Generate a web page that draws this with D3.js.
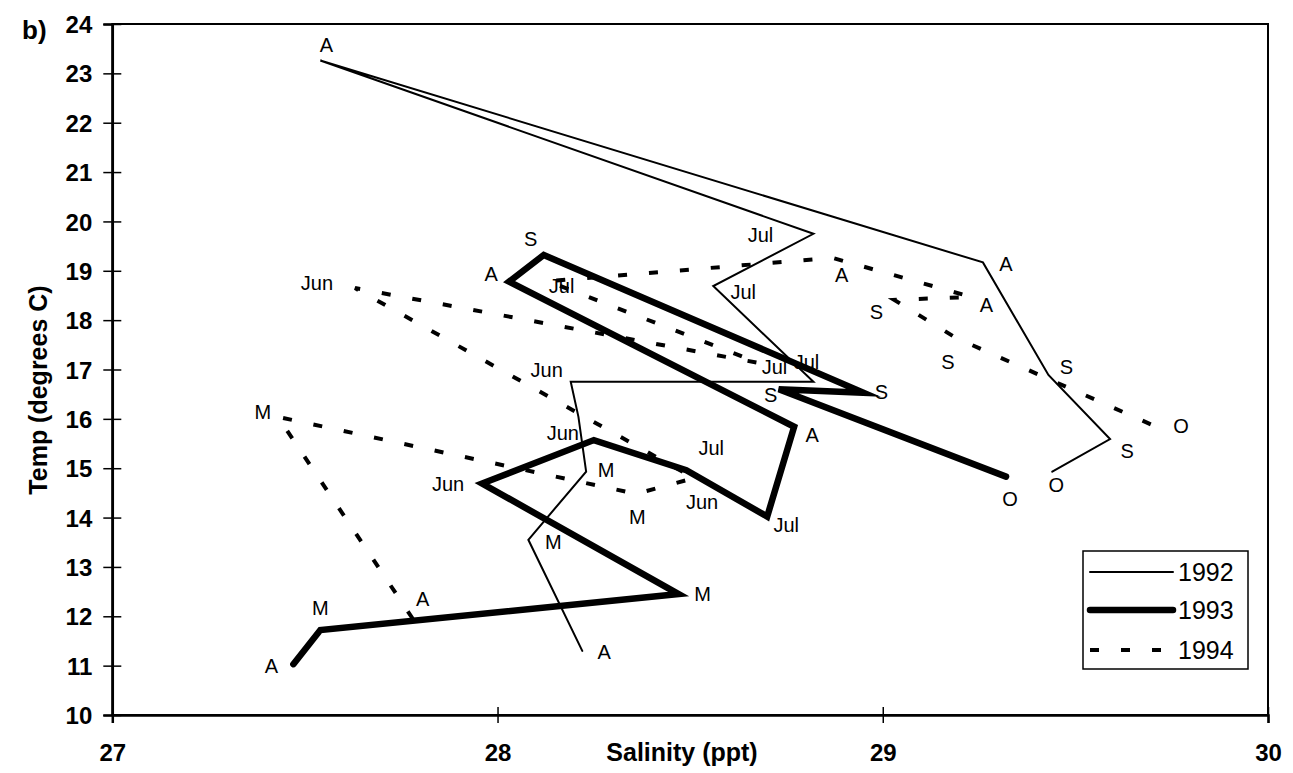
<!DOCTYPE html>
<html>
<head>
<meta charset="utf-8">
<script src="https://cdn.jsdelivr.net/npm/d3@7"></script>
<style>
  html, body { margin: 0; padding: 0; background: #fff; }
  svg { display: block; }
  text { font-family: "Liberation Sans", Arial, sans-serif; fill: #000; }
</style>
</head>
<body>
<svg id="chart" width="1293" height="773"></svg>
<script>
// Salinity / temperature trajectories, one series per year
const salinity1992 = [28.22, 28.08, 28.23, 28.21, 28.19, 28.82, 28.56, 28.82, 27.54, 29.26, 29.43, 29.59, 29.44];
const temp1992     = [11.30, 13.55, 14.93, 16.04, 16.75, 16.75, 18.69, 19.75, 23.26, 19.17, 16.89, 15.59, 14.93];
const months1992   = ["A", "M", "M", "Jun", "Jun", "Jul", "Jul", "Jul", "A", "A", "S", "S", "O"];

const salinity1993 = [27.47, 27.54, 28.47, 27.96, 28.25, 28.49, 28.70, 28.77, 28.03, 28.12, 28.95, 28.73, 29.32];
const temp1993     = [11.03, 11.72, 12.45, 14.69, 15.57, 14.96, 14.02, 15.84, 18.78, 19.32, 16.53, 16.60, 14.83];
const months1993   = ["A", "M", "M", "Jun", "Jun", "Jul", "Jul", "A", "A", "S", "S", "S", "O"];

const salinity1994 = [27.78, 27.43, 28.36, 28.51, 27.63, 28.68, 28.13, 28.87, 29.23, 29.03, 29.19, 29.73];
const temp1994     = [11.95, 16.04, 14.48, 14.80, 18.65, 17.13, 18.79, 19.26, 18.47, 18.41, 17.64, 15.77];
const months1994   = ["A", "M", "M", "Jun", "Jun", "Jul", "Jul", "A", "A", "S", "S", "O"];

const years = ["1992", "1993", "1994"];
const xTicks = [27, 28, 29, 30];
const yTicks = [10, 11, 12, 13, 14, 15, 16, 17, 18, 19, 20, 21, 22, 23, 24];

// Where each month label sits relative to its point (px); null = no label
const labelOffsets1992 = [[22,1],[25,2],[20,-2],null,[-24,-12],[-7,-20],[30,6],[-53,1],[6,-16],[23,1],[18,-8],[17,12],[4,13]];
const labelOffsets1993 = [[-22,2],[0,-22],[24,0],[-34,0],[-31,-7],[25,-22],[19,8],[18,8],[-18,-8],[-13,-16],[18,-1],[-8,6],[4,22]];
const labelOffsets1994 = [[10,-20],[-15,-5],[1,23],[8,24],[-38,-5],[15,4],[14,5],[9,17],[15,8],[-18,12],[-8,24],[17,-4]];

const svg = d3.select("#chart");
const plot = { left: 112.3, right: 1268, top: 24, bottom: 715 };

const x = d3.scaleLinear().domain([27, 30]).range([plot.left, plot.right]);
const y = d3.scaleLinear().domain([10, 24]).range([plot.bottom, plot.top]);

const FONT_TICK = 24;

// Plot frame
svg.append("rect")
  .attr("x", plot.left).attr("y", plot.top)
  .attr("width", plot.right - plot.left).attr("height", plot.bottom - plot.top)
  .attr("fill", "none").attr("stroke", "#000").attr("stroke-width", 2);

// Y axis
const yAxis = svg.append("g")
  .attr("transform", `translate(${plot.left},0)`)
  .call(d3.axisLeft(y).tickValues(yTicks).tickFormat(d3.format("d")).tickSize(9));
yAxis.select(".domain").attr("stroke-width", 2.5);
yAxis.selectAll(".tick line").attr("x1", -9).attr("x2", 9).attr("stroke-width", 1.5);
yAxis.selectAll(".tick text")
  .attr("x", -20).attr("dy", "0.36em")
  .style("font-size", FONT_TICK + "px").style("font-weight", "bold")
  .attr("text-anchor", "end");

// X axis
const xAxis = svg.append("g")
  .attr("transform", `translate(0,${plot.bottom})`)
  .call(d3.axisBottom(x).tickValues(xTicks).tickFormat(d3.format("d")).tickSize(8));
xAxis.select(".domain").attr("stroke-width", 2.5);
xAxis.selectAll(".tick line").attr("y1", -8).attr("y2", 8).attr("stroke-width", 1.5);
xAxis.selectAll(".tick text")
  .attr("y", 37).attr("dy", "0.36em")
  .style("font-size", FONT_TICK + "px").style("font-weight", "bold");
svg.selectAll(".tick text").style("font-family", "'Liberation Sans', Arial, sans-serif");

// Axis titles and panel tag
svg.append("text")
  .attr("x", 682).attr("y", 752).attr("dy", "0.36em")
  .attr("text-anchor", "middle")
  .style("font-size", "25px").style("font-weight", "bold")
  .text("Salinity (ppt)");

svg.append("text")
  .attr("transform", "translate(38,390) rotate(-90)")
  .attr("dy", "0.36em")
  .attr("text-anchor", "middle")
  .style("font-size", "25px").style("font-weight", "bold")
  .text("Temp (degrees C)");

svg.append("text")
  .attr("x", 22).attr("y", 39)
  .style("font-size", "26px").style("font-weight", "bold")
  .text("b)");

// Series
const series = [
  { name: years[0], s: salinity1992, t: temp1992, m: months1992, off: labelOffsets1992,
    width: 2, dash: null, cap: "round" },
  { name: years[1], s: salinity1993, t: temp1993, m: months1993, off: labelOffsets1993,
    width: 6.5, dash: null, cap: "round" },
  { name: years[2], s: salinity1994, t: temp1994, m: months1994, off: labelOffsets1994,
    width: 4, dash: "9,22", cap: "butt" }
];

const line = d3.line().x(d => x(d.s)).y(d => y(d.t));

series.forEach(sr => {
  const pts = sr.s.map((s, i) => ({ s, t: sr.t[i], m: sr.m[i], off: sr.off[i] }));
  svg.append("path")
    .datum(pts)
    .attr("d", line)
    .attr("fill", "none")
    .attr("stroke", "#000")
    .attr("stroke-width", sr.width)
    .attr("stroke-linejoin", "miter")
    .attr("stroke-miterlimit", 6)
    .attr("stroke-linecap", sr.cap)
    .attr("stroke-dasharray", sr.dash);

  svg.append("g").selectAll("text")
    .data(pts.filter(p => p.off))
    .join("text")
    .attr("x", p => x(p.s) + p.off[0])
    .attr("y", p => y(p.t) + p.off[1])
    .attr("dy", "0.36em")
    .attr("text-anchor", "middle")
    .style("font-size", "20px")
    .text(p => p.m);
});

// Legend
const legend = svg.append("g");
legend.append("rect")
  .attr("x", 1083).attr("y", 551).attr("width", 165).attr("height", 118)
  .attr("fill", "#fff").attr("stroke", "#000").attr("stroke-width", 1.5);
const legendRows = [572, 610, 650];
series.forEach((sr, i) => {
  legend.append("line")
    .attr("x1", 1090).attr("x2", 1173)
    .attr("y1", legendRows[i]).attr("y2", legendRows[i])
    .attr("stroke", "#000")
    .attr("stroke-width", sr.width)
    .attr("stroke-linecap", sr.cap)
    .attr("stroke-dasharray", sr.dash);
  legend.append("text")
    .attr("x", 1178).attr("y", legendRows[i]).attr("dy", "0.36em")
    .style("font-size", "25px")
    .text(sr.name);
});
</script>
</body>
</html>
